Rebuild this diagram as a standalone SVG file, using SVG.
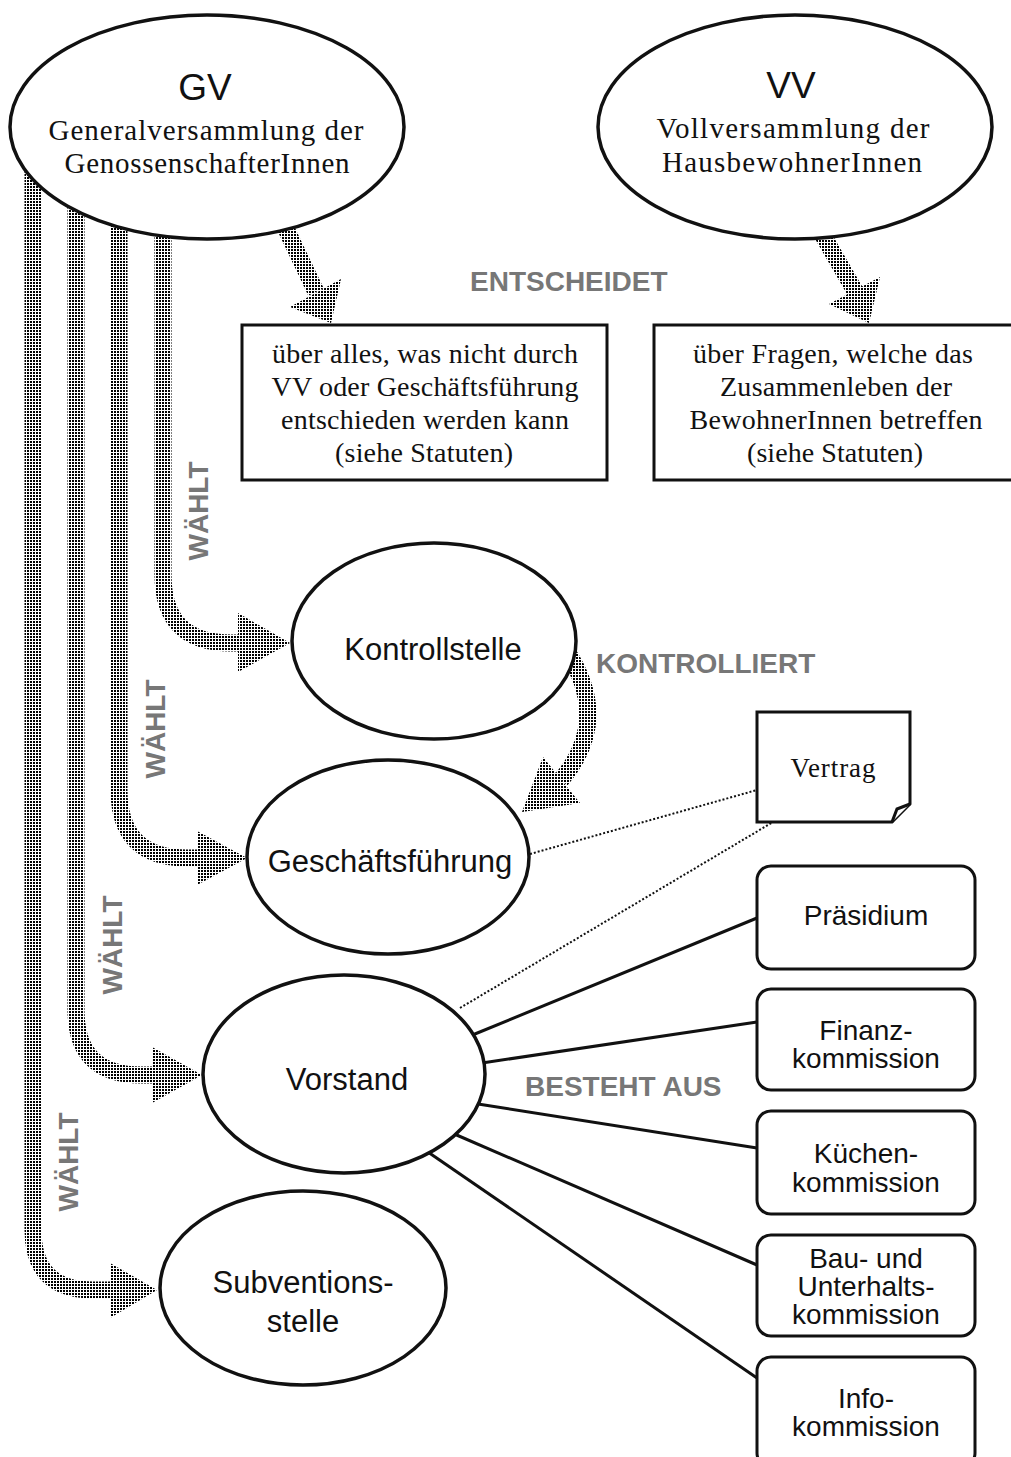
<svg xmlns="http://www.w3.org/2000/svg" width="1011" height="1457" viewBox="0 0 1011 1457">
<defs>
<pattern id="dots" width="3" height="3" patternUnits="userSpaceOnUse"><rect width="2" height="2" fill="#000"/></pattern>
<style>
.node{fill:#fff;stroke:#111;stroke-width:3.5}
.box{fill:#fff;stroke:#111;stroke-width:3}
.shaft{fill:none;stroke:url(#dots);stroke-width:17}
.head{fill:url(#dots)}
.line{stroke:#111;stroke-width:3;fill:none}
.dotline{stroke:#111;stroke-width:2;stroke-dasharray:2 2;fill:none}
.sans{font-family:"Liberation Sans",Arial,sans-serif;fill:#111;text-anchor:middle}
.serif{font-family:"Liberation Serif","Times New Roman",serif;fill:#111;text-anchor:middle}
.lbl{font-family:"Liberation Sans",Arial,sans-serif;font-weight:bold;font-size:28px;fill:#777}
</style>
</defs>
<rect width="1011" height="1457" fill="#fff"/>

<g id="connectors">
  <!-- entscheidet arrows -->
  <path class="shaft" d="M278,212 L316,292"/>
  <polygon class="head" points="331,323 290,307 341,279"/>
  <path class="shaft" d="M814,220 L855,291"/>
  <polygon class="head" points="869,323 829,304 880,277"/>
  <!-- waehlt arrows -->
  <path class="shaft" d="M163,150 V575 Q163,643 231,643 H240"/>
  <polygon class="head" points="238,613 290,643 238,672"/>
  <path class="shaft" d="M119,150 V790 Q119,858 187,858 H199"/>
  <polygon class="head" points="197,831 247,858 197,885"/>
  <path class="shaft" d="M76,150 V1010 Q76,1075 141,1075 H154"/>
  <polygon class="head" points="152,1047 202,1075 152,1103"/>
  <path class="shaft" d="M33,150 V1230 Q33,1290 93,1290 H112"/>
  <polygon class="head" points="110,1263 157,1290 110,1318"/>
  <!-- kontrolliert -->
  <path class="shaft" d="M566,650 Q612,720 561,780"/>
  <polygon class="head" points="522,812 543,757 580,803"/>
  <!-- vertrag dotted -->
  <path class="dotline" d="M530,854 L757,790"/>
  <path class="dotline" d="M460,1008 L773,822"/>
  <!-- besteht aus -->
  <path class="line" d="M470,1036 L757,918"/>
  <path class="line" d="M482,1063 L757,1022"/>
  <path class="line" d="M478,1104 L757,1148"/>
  <path class="line" d="M452,1133 L757,1265"/>
  <path class="line" d="M425,1150 L757,1378"/>
</g>

<g id="labels">
  <text class="lbl" x="470" y="291">ENTSCHEIDET</text>
  <text class="lbl" x="596" y="673" font-size="27">KONTROLLIERT</text>
  <text class="lbl" x="525" y="1096">BESTEHT AUS</text>
  <text class="lbl" transform="translate(208,511) rotate(-90)" text-anchor="middle">WÄHLT</text>
  <text class="lbl" transform="translate(165,729) rotate(-90)" text-anchor="middle">WÄHLT</text>
  <text class="lbl" transform="translate(122,945) rotate(-90)" text-anchor="middle">WÄHLT</text>
  <text class="lbl" transform="translate(78,1162) rotate(-90)" text-anchor="middle">WÄHLT</text>
</g>

<g id="gv">
  <ellipse class="node" cx="207" cy="127" rx="197" ry="112"/>
  <text class="sans" x="205" y="100" font-size="37">GV</text>
  <text class="serif" x="206" y="140" font-size="29" textLength="315">Generalversammlung der</text>
  <text class="serif" x="207" y="173" font-size="29" textLength="285">GenossenschafterInnen</text>
</g>
<g id="vv">
  <ellipse class="node" cx="795" cy="127" rx="197" ry="112"/>
  <text class="sans" x="791" y="98" font-size="37">VV</text>
  <text class="serif" x="793" y="138" font-size="29" textLength="273">Vollversammlung der</text>
  <text class="serif" x="792" y="172" font-size="29" textLength="260">HausbewohnerInnen</text>
</g>
<g id="gv-entscheidet">
  <rect class="box" x="242" y="325" width="365" height="155"/>
  <text class="serif" x="425" y="363" font-size="28" textLength="306">über alles, was nicht durch</text>
  <text class="serif" x="425" y="396" font-size="28" textLength="307">VV oder Geschäftsführung</text>
  <text class="serif" x="425" y="429" font-size="28" textLength="288">entschieden werden kann</text>
  <text class="serif" x="424" y="462" font-size="28" textLength="178">(siehe Statuten)</text>
</g>
<g id="vv-entscheidet">
  <rect class="box" x="654" y="325" width="360" height="155"/>
  <text class="serif" x="833" y="363" font-size="28" textLength="280">über Fragen, welche das</text>
  <text class="serif" x="836" y="396" font-size="28" textLength="232">Zusammenleben der</text>
  <text class="serif" x="836" y="429" font-size="28" textLength="293">BewohnerInnen betreffen</text>
  <text class="serif" x="835" y="462" font-size="28" textLength="176">(siehe Statuten)</text>
</g>
<g id="kontrollstelle">
  <ellipse class="node" cx="434" cy="641" rx="142" ry="98"/>
  <text class="sans" x="433" y="660" font-size="31">Kontrollstelle</text>
</g>
<g id="geschaeftsfuehrung">
  <ellipse class="node" cx="388" cy="857" rx="141" ry="97"/>
  <text class="sans" x="390" y="872" font-size="31">Geschäftsführung</text>
</g>
<g id="vorstand">
  <ellipse class="node" cx="344" cy="1074" rx="141" ry="99"/>
  <text class="sans" x="347" y="1090" font-size="31">Vorstand</text>
</g>
<g id="subventionsstelle">
  <ellipse class="node" cx="303" cy="1288" rx="143" ry="97"/>
  <text class="sans" x="303" y="1293" font-size="31">Subventions-</text>
  <text class="sans" x="303" y="1332" font-size="31">stelle</text>
</g>
<g id="vertrag">
  <path class="box" d="M757,712 H910 V804 L892,822 H757 Z"/>
  <path class="box" d="M892,822 L897,809 L910,804"/>
  <text class="serif" x="833" y="777" font-size="27" textLength="85">Vertrag</text>
</g>
<g id="praesidium">
  <rect class="box" x="757" y="866" width="218" height="103" rx="14"/>
  <text class="sans" x="866" y="925" font-size="28">Präsidium</text>
</g>
<g id="finanzkommission">
  <rect class="box" x="757" y="989" width="218" height="101" rx="14"/>
  <text class="sans" x="866" y="1040" font-size="28">Finanz-</text>
  <text class="sans" x="866" y="1068" font-size="28">kommission</text>
</g>
<g id="kuechenkommission">
  <rect class="box" x="757" y="1111" width="218" height="103" rx="14"/>
  <text class="sans" x="866" y="1163" font-size="28">Küchen-</text>
  <text class="sans" x="866" y="1192" font-size="28">kommission</text>
</g>
<g id="baukommission">
  <rect class="box" x="757" y="1235" width="218" height="101" rx="14"/>
  <text class="sans" x="866" y="1268" font-size="28">Bau- und</text>
  <text class="sans" x="866" y="1296" font-size="28">Unterhalts-</text>
  <text class="sans" x="866" y="1324" font-size="28">kommission</text>
</g>
<g id="infokommission">
  <rect class="box" x="757" y="1357" width="218" height="110" rx="14"/>
  <text class="sans" x="866" y="1408" font-size="28">Info-</text>
  <text class="sans" x="866" y="1436" font-size="28">kommission</text>
</g>
</svg>
